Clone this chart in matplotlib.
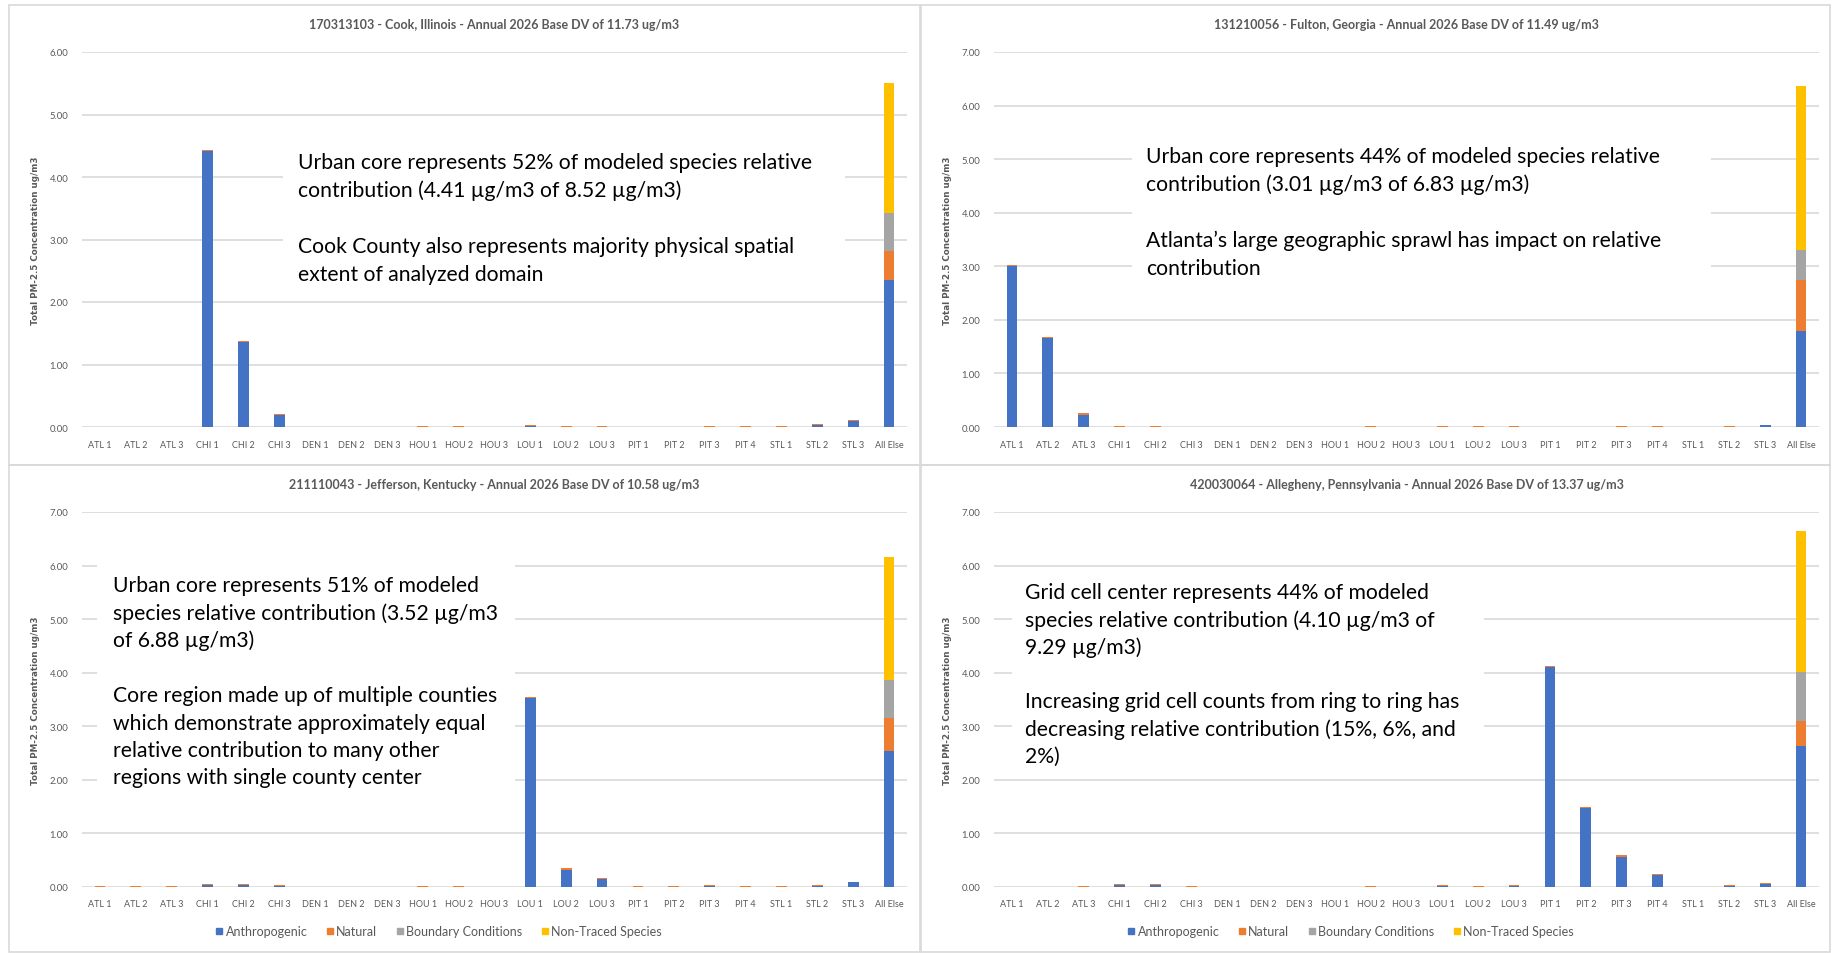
import numpy as np
import matplotlib.pyplot as plt
from matplotlib.patches import Rectangle
from matplotlib.lines import Line2D

W, H = 1835, 954
FONT = 'Lato'

sites = ['ATL 1', 'ATL 2', 'ATL 3', 'CHI 1', 'CHI 2', 'CHI 3', 'DEN 1', 'DEN 2', 'DEN 3',
         'HOU 1', 'HOU 2', 'HOU 3', 'LOU 1', 'LOU 2', 'LOU 3', 'PIT 1', 'PIT 2', 'PIT 3',
         'PIT 4', 'STL 1', 'STL 2', 'STL 3', 'All Else']
groups = ['Anthropogenic', 'Natural', 'Boundary Conditions', 'Non-Traced Species']
colors = ['#4472C4', '#ED7D31', '#A5A5A5', '#FFC000']

# 170313103 - Cook, Illinois
cook_anthro = [0, 0, 0, 4.41, 1.36, 0.19, 0, 0, 0, 0, 0, 0, 0.02, 0, 0, 0, 0, 0, 0, 0, 0.04, 0.10, 2.35]
cook_natural = [0, 0, 0, 0.02, 0.02, 0.02, 0, 0, 0, 0.015, 0.015, 0, 0.01, 0.015, 0.015, 0, 0, 0.015, 0.015, 0.015, 0.01, 0.01, 0.47]
cook_bc = [0, 0, 0, 0, 0, 0, 0, 0, 0, 0, 0, 0, 0, 0, 0, 0, 0, 0, 0, 0, 0, 0, 0.60]
cook_nt = [0, 0, 0, 0, 0, 0, 0, 0, 0, 0, 0, 0, 0, 0, 0, 0, 0, 0, 0, 0, 0, 0, 2.08]

# 131210056 - Fulton, Georgia
fulton_anthro = [3.01, 1.66, 0.22, 0, 0, 0, 0, 0, 0, 0, 0, 0, 0, 0, 0, 0, 0, 0, 0, 0, 0, 0.03, 1.80]
fulton_natural = [0.02, 0.02, 0.04, 0.015, 0.015, 0, 0, 0, 0, 0, 0.015, 0, 0.015, 0.015, 0.015, 0, 0, 0.015, 0.015, 0, 0.015, 0.01, 0.94]
fulton_bc = [0, 0, 0, 0, 0, 0, 0, 0, 0, 0, 0, 0, 0, 0, 0, 0, 0, 0, 0, 0, 0, 0, 0.57]
fulton_nt = [0, 0, 0, 0, 0, 0, 0, 0, 0, 0, 0, 0, 0, 0, 0, 0, 0, 0, 0, 0, 0, 0, 3.06]

# 211110043 - Jefferson, Kentucky
jeff_anthro = [0, 0, 0, 0.04, 0.04, 0.01, 0, 0, 0, 0, 0, 0, 3.52, 0.31, 0.15, 0, 0, 0.01, 0, 0, 0.02, 0.09, 2.54]
jeff_natural = [0.015, 0.015, 0.015, 0.02, 0.02, 0.02, 0, 0, 0, 0.015, 0.015, 0, 0.03, 0.04, 0.02, 0.015, 0.015, 0.02, 0.015, 0.015, 0.01, 0.01, 0.62]
jeff_bc = [0, 0, 0, 0, 0, 0, 0, 0, 0, 0, 0, 0, 0, 0, 0, 0, 0, 0, 0, 0, 0, 0, 0.70]
jeff_nt = [0, 0, 0, 0, 0, 0, 0, 0, 0, 0, 0, 0, 0, 0, 0, 0, 0, 0, 0, 0, 0, 0, 2.30]

# 420030064 - Allegheny, Pennsylvania
alle_anthro = [0, 0, 0, 0.04, 0.04, 0, 0, 0, 0, 0, 0, 0, 0.01, 0, 0.01, 4.10, 1.47, 0.56, 0.22, 0, 0.01, 0.05, 2.63]
alle_natural = [0, 0, 0.015, 0.02, 0.02, 0.015, 0, 0, 0, 0, 0.015, 0, 0.02, 0.015, 0.02, 0.02, 0.02, 0.03, 0.02, 0, 0.02, 0.02, 0.46]
alle_bc = [0, 0, 0, 0, 0, 0, 0, 0, 0, 0, 0, 0, 0, 0, 0, 0, 0, 0, 0, 0, 0, 0, 0.93]
alle_nt = [0, 0, 0, 0, 0, 0, 0, 0, 0, 0, 0, 0, 0, 0, 0, 0, 0, 0, 0, 0, 0, 0, 2.63]

titles = ['170313103 - Cook, Illinois - Annual 2026 Base DV of 11.73 ug/m3',
          '131210056 - Fulton, Georgia - Annual 2026 Base DV of 11.49 ug/m3',
          '211110043 - Jefferson, Kentucky - Annual 2026 Base DV of 10.58 ug/m3',
          '420030064 - Allegheny, Pennsylvania - Annual 2026 Base DV of 13.37 ug/m3']

notes = [['Urban core represents 52% of modeled species relative',
          'contribution (4.41 \u00b5g/m3 of 8.52 \u00b5g/m3)', '',
          'Cook County also represents majority physical spatial',
          'extent of analyzed domain'],
         ['Urban core represents 44% of modeled species relative',
          'contribution (3.01 \u00b5g/m3 of 6.83 \u00b5g/m3)', '',
          'Atlanta\u2019s large geographic sprawl has impact on relative',
          'contribution'],
         ['Urban core represents 51% of modeled',
          'species relative contribution (3.52 \u00b5g/m3',
          'of 6.88 \u00b5g/m3)', '',
          'Core region made up of multiple counties',
          'which demonstrate approximately equal',
          'relative contribution to many other',
          'regions with single county center'],
         ['Grid cell center represents 44% of modeled',
          'species relative contribution (4.10 \u00b5g/m3 of',
          '9.29 \u00b5g/m3)', '',
          'Increasing grid cell counts from ring to ring has',
          'decreasing relative contribution (15%, 6%, and',
          '2%)']]

panels = [(cook_anthro, cook_natural, cook_bc, cook_nt),
          (fulton_anthro, fulton_natural, fulton_bc, fulton_nt),
          (jeff_anthro, jeff_natural, jeff_bc, jeff_nt),
          (alle_anthro, alle_natural, alle_bc, alle_nt)]
ymaxes = [6, 7, 7, 7]

# pixel layout: axes box, panel frame, note box, first note line, line pitch
ax_px = [(82, 53, 907, 428), (994, 53, 1819, 428), (82, 513, 907, 888), (994, 513, 1819, 888)]
frame_px = [(9, 6, 920, 466), (921, 6, 1830, 466), (9, 466, 920, 953), (921, 466, 1830, 953)]
box_px = [(283, 135, 845, 295), (1132, 130, 1711, 300), (97, 545, 515, 800), (1012, 575, 1484, 775)]
note_start = [(298, 163), (1146, 157), (113, 586), (1025, 593)]
pitch = [28, 28, 27.5, 27.3]


def fx(x):
    return x / W


def fy(y):
    return 1 - y / H


fig = plt.figure(figsize=(W / 100, H / 100), dpi=100)
fig.patch.set_facecolor('white')

for i in range(4):
    x0, y0, x1, y1 = frame_px[i]
    fig.patches.append(Rectangle((fx(x0), fy(y1)), fx(x1 - x0), (y1 - y0) / H, transform=fig.transFigure,
                                 fill=False, edgecolor='#D9D9D9', lw=1.2, zorder=0))

    x0, y0, x1, y1 = ax_px[i]
    ax = fig.add_axes([fx(x0), fy(y1), fx(x1 - x0), (y1 - y0) / H])
    x = np.arange(len(sites))
    bottom = np.zeros(len(sites))
    for vals, c, g in zip(panels[i], colors, groups):
        vals = np.array(vals)
        ax.bar(x, vals, 0.3, bottom=bottom, color=c, label=g, zorder=3)
        bottom = bottom + vals
    ax.set_xlim(-0.5, len(sites) - 0.5)
    ax.set_ylim(0, ymaxes[i])
    ax.set_yticks(np.arange(0, ymaxes[i] + 1))
    ax.set_yticklabels(['%.2f' % v for v in np.arange(0, ymaxes[i] + 1)], fontsize=6.8,
                       color='#595959', family=FONT)
    ax.set_xticks(x)
    ax.set_xticklabels(sites, fontsize=6.5, color='#595959', family=FONT)
    ax.tick_params(length=0, axis='y', pad=10)
    ax.tick_params(length=0, axis='x', pad=9)
    ax.grid(axis='y', color='#D9D9D9', lw=1.2, zorder=0)
    ax.set_axisbelow(True)
    for s in ax.spines.values():
        s.set_visible(False)
    ax.set_ylabel('Total PM-2.5 Concentration ug/m3', fontsize=6.3, fontweight='bold',
                  color='#595959', family='DejaVu Sans', labelpad=7)
    ax.set_title(titles[i], fontsize=9, fontweight='bold', color='#595959', family=FONT, pad=17)

    if i >= 2:
        handles = [Line2D([], [], marker='s', ls='none', color=c, markersize=5) for c in colors]
        fig.legend(handles, groups, loc='center', ncol=4, frameon=False,
                   bbox_to_anchor=(fx((frame_px[i][0] + 429)), fy(932)),
                   prop={'family': FONT, 'size': 9}, labelcolor='#595959',
                   handletextpad=0.1, columnspacing=1.4, handlelength=0.8)

    bx0, by0, bx1, by1 = box_px[i]
    fig.patches.append(Rectangle((fx(bx0), fy(by1)), fx(bx1 - bx0), (by1 - by0) / H,
                                 transform=fig.transFigure, facecolor='white', edgecolor='none', zorder=5))
    tx, ty = note_start[i]
    for k, line in enumerate(notes[i]):
        if line:
            fig.text(fx(tx), fy(ty + k * pitch[i]), line, fontsize=15.2, family=FONT,
                     color='black', va='center', ha='left', zorder=6)

plt.savefig('out.png', dpi=100)
